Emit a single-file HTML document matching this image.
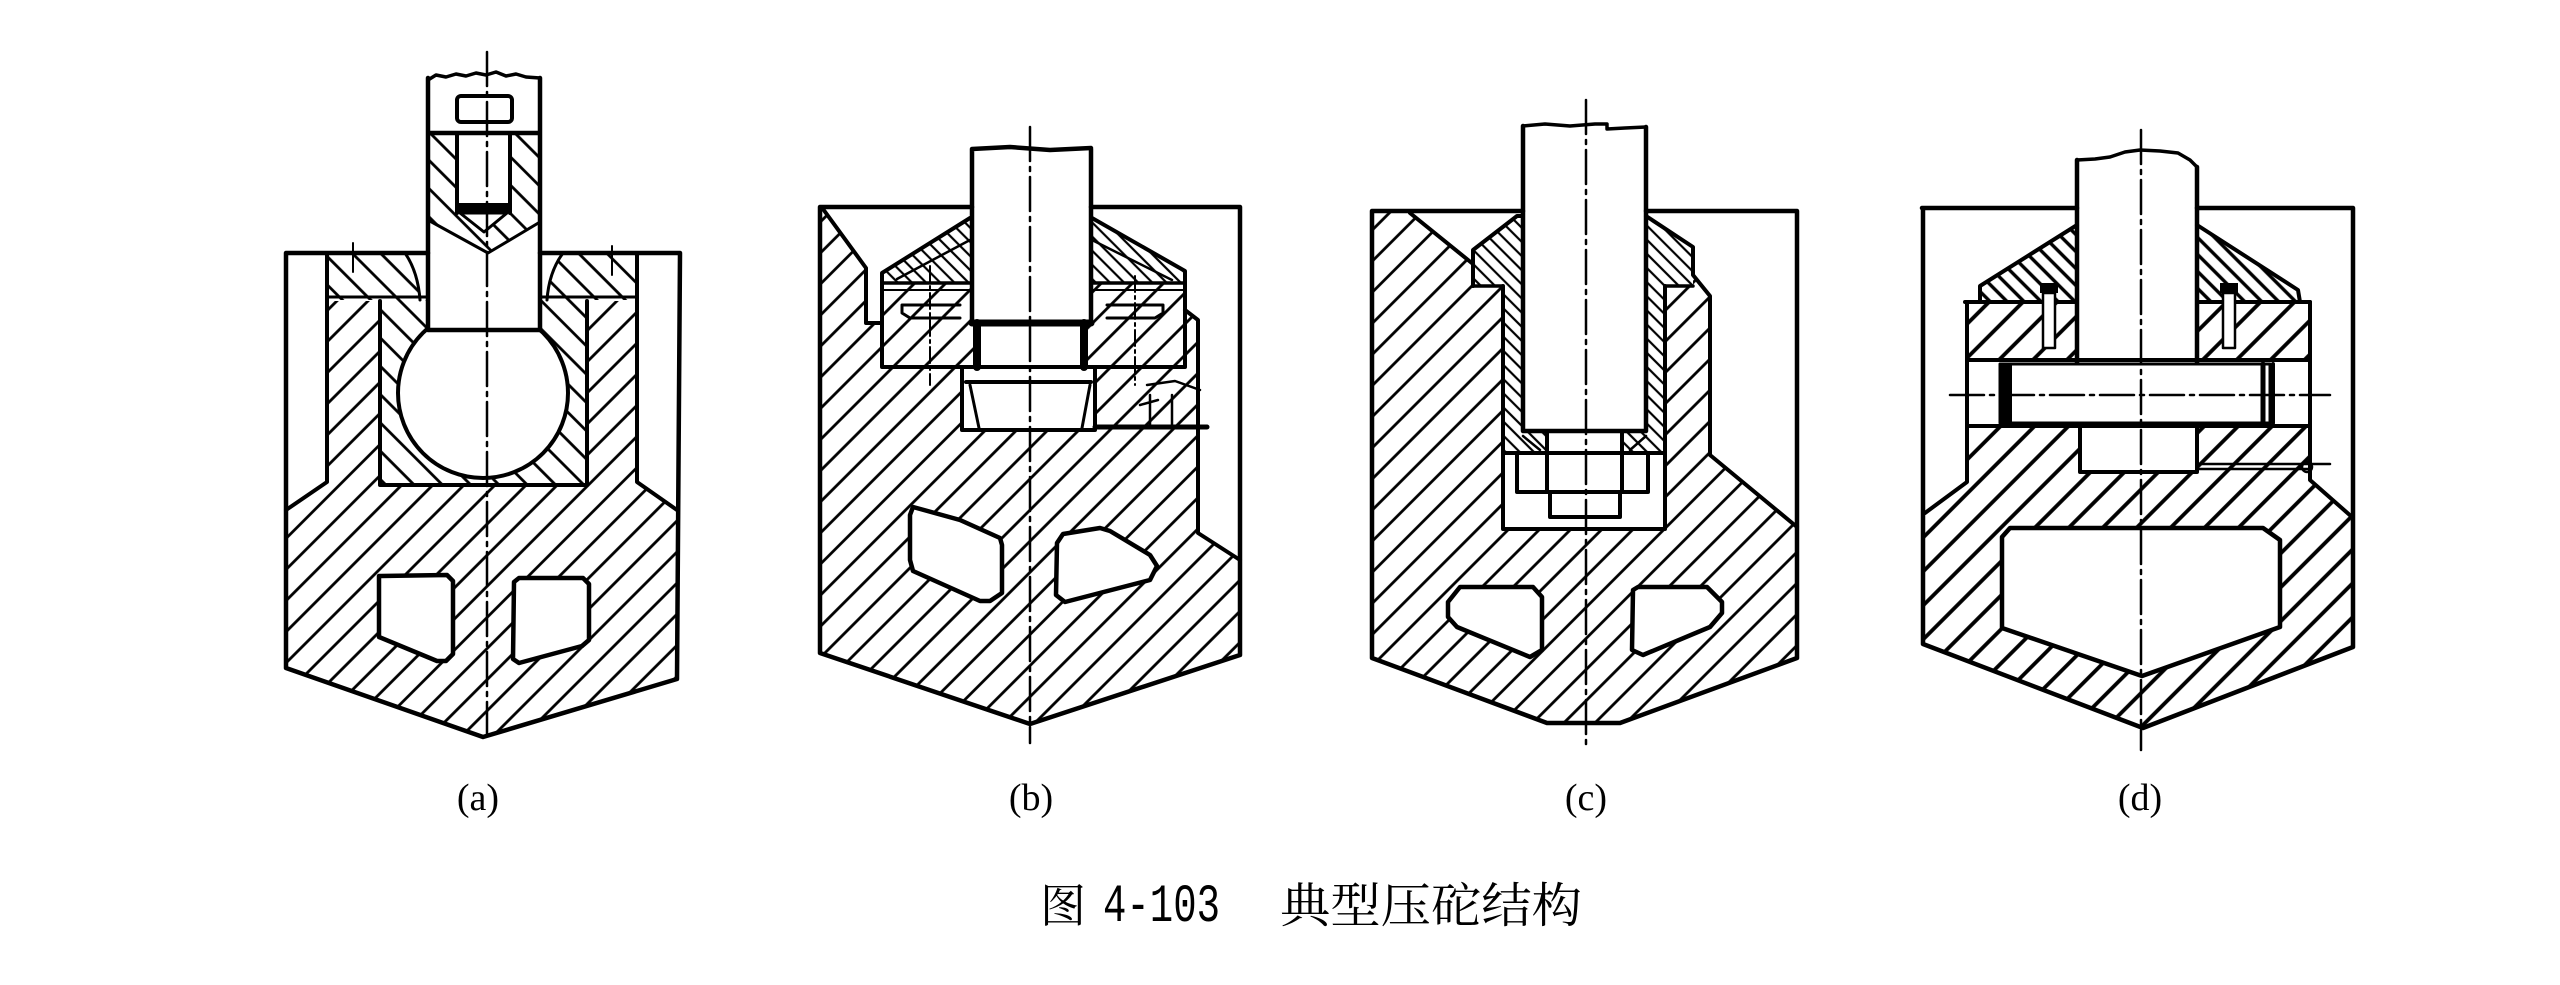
<!DOCTYPE html>
<html><head><meta charset="utf-8">
<style>html,body{margin:0;padding:0;background:#fff;}svg{display:block;}</style>
</head><body>
<svg width="2560" height="985" viewBox="0 0 2560 985" xmlns="http://www.w3.org/2000/svg">
<defs>
<pattern id="hr" patternUnits="userSpaceOnUse" width="22" height="22" patternTransform="rotate(45)"><rect width="22" height="22" fill="#fff"/><line x1="11" y1="-1" x2="11" y2="23" stroke="#000" stroke-width="2.8"/></pattern>
<pattern id="hl" patternUnits="userSpaceOnUse" width="20" height="20" patternTransform="rotate(-45)"><rect width="20" height="20" fill="#fff"/><line x1="10" y1="-1" x2="10" y2="21" stroke="#000" stroke-width="2.8"/></pattern>
<pattern id="hf" patternUnits="userSpaceOnUse" width="10" height="10" patternTransform="rotate(-45)"><rect width="10" height="10" fill="#fff"/><line x1="5" y1="-1" x2="5" y2="11" stroke="#000" stroke-width="2.2"/></pattern>
<pattern id="hd" patternUnits="userSpaceOnUse" width="24" height="24" patternTransform="rotate(45)"><rect width="24" height="24" fill="#fff"/><line x1="12" y1="-1" x2="12" y2="25" stroke="#000" stroke-width="3.8"/></pattern>
<pattern id="hfd" patternUnits="userSpaceOnUse" width="12" height="12" patternTransform="rotate(-45)"><rect width="12" height="12" fill="#fff"/><line x1="6" y1="-1" x2="6" y2="13" stroke="#000" stroke-width="3.4"/></pattern>
</defs>
<rect width="2560" height="985" fill="#fff"/>

<!-- ================= (a) ================= -->
<g stroke-linejoin="round" stroke-linecap="round">
<polygon points="286,510 327,482 327,253 637,253 637,482 677,510 677,679 483,737 286,668" fill="url(#hr)"/>
<rect x="327" y="253" width="310" height="48" fill="#fff"/>
<path d="M327,253 L405,253 Q418,272 420,300 L327,300 Z" fill="url(#hl)"/>
<path d="M637,253 L563,253 Q549,272 547,300 L637,300 Z" fill="url(#hl)"/>
<rect x="380" y="300" width="207" height="185" fill="url(#hl)"/>
<circle cx="483" cy="393" r="85" fill="#fff" stroke="#000" stroke-width="4"/>
<rect x="428" y="78" width="112" height="252" fill="#fff"/>
<polygon points="428,133 540,133 540,222 488,253 428,220" fill="url(#hl)"/>
<rect x="457" y="135" width="53" height="78" fill="#fff"/>
<polygon points="460,213 507,213 484,232" fill="#fff" stroke="#000" stroke-width="3"/>
<rect x="457" y="203" width="53" height="10" fill="#000"/>
<g fill="none" stroke="#000">
<path d="M286,253 L428,253 M540,253 L680,253 M286,253 L286,668 L483,737 L677,679 L680,253" stroke-width="4.5"/>
<path d="M327,253 L327,482 L286,510 M637,253 L637,482 L677,510" stroke-width="4"/>
<path d="M405,253 Q418,272 420,300 M563,253 Q549,272 547,300" stroke-width="3"/>
<path d="M327,297 L428,297 M540,297 L637,297" stroke-width="3"/>
<path d="M380,301 L380,485 L587,485 L587,301" stroke-width="4"/>
<path d="M428,78 L428,330 M540,78 L540,330 M428,330 L540,330 M428,133 L540,133" stroke-width="4.5"/>
<polyline points="428,80 436,75 446,77 456,74 466,76 476,73 486,75 496,72 506,76 516,74 526,77 540,78" stroke-width="3.5"/>
<path d="M428,220 L488,253 L540,222" stroke-width="3"/>
<path d="M457,135 L457,213 M510,135 L510,213" stroke-width="4"/>
<rect x="457" y="96" width="55" height="26" rx="4" stroke-width="4"/>
<path d="M353,243 L353,272 M612,246 L612,275" stroke-width="2"/>
</g>
<polygon points="379,576 447,575 453,581 453,654 446,661 437,661 379,637" fill="#fff" stroke="#000" stroke-width="4.5"/>
<polygon points="514,582 519,578 583,578 589,584 589,640 582,646 519,663 513,659" fill="#fff" stroke="#000" stroke-width="4.5"/>
<path d="M487,52 L487,740" stroke="#000" stroke-width="2.5" stroke-dasharray="34 6 4 6" fill="none"/>
</g>

<!-- ================= (b) ================= -->
<g stroke-linejoin="round" stroke-linecap="round">
<polygon points="820,207 823,207 866,268 866,323 882,323 882,283 1185,283 1185,310 1198,320 1198,533 1240,560 1240,655 1030,724 820,653" fill="url(#hr)"/>
<polygon points="970,218 882,273 882,283 972,283" fill="url(#hf)"/>
<polygon points="1092,218 1185,271 1185,283 1090,283" fill="url(#hf)"/>
<rect x="972" y="149" width="119" height="173" fill="#fff"/>
<rect x="973" y="322" width="114" height="45" fill="#fff"/>
<rect x="962" y="367" width="133" height="63" fill="#fff"/>
<g fill="none" stroke="#000">
<path d="M820,207 L972,207 M1091,207 L1240,207 M820,207 L820,653 L1030,724 L1240,655 L1240,207" stroke-width="4.5"/>
<path d="M823,209 L866,268 L866,323 L882,323" stroke-width="4"/>
<path d="M970,218 L882,273 L882,367 L962,367 M1095,367 L1185,367 L1185,271 L1092,218" stroke-width="4"/>
<path d="M882,283 L972,283 M1091,283 L1185,283" stroke-width="3.5"/>
<path d="M1185,310 L1198,320 L1198,533 L1240,560" stroke-width="4"/>
<path d="M970,240 L897,279 M1092,240 L1172,280" stroke-width="2.5"/>
<path d="M882,290 L972,290 M1091,290 L1185,290" stroke-width="2"/>
<path d="M902,305 L960,305 M902,305 L902,313 L910,318 L960,318 M1107,305 L1163,305 M1163,305 L1163,313 L1155,318 L1107,318" stroke-width="3"/>
<path d="M972,149 L972,322 M1091,149 L1091,322 M972,149 L1010,147 L1050,150 L1091,148" stroke-width="4.5"/>
<path d="M972,323 L1091,323" stroke-width="7"/>
<path d="M977,323 L977,367 M1084,323 L1084,367" stroke-width="8"/>
<path d="M962,367 L962,430 L1095,430 L1095,367 M962,367 L1095,367" stroke-width="4"/>
<path d="M966,382 L1091,382" stroke-width="4"/>
<path d="M970,385 L979,428 M1090,385 L1082,428" stroke-width="3"/>
<path d="M1095,427 L1207,427" stroke-width="5"/>
<path d="M1147,385 L1175,381 L1200,390 M1150,395 L1150,425 M1172,395 L1172,425 M1140,405 L1158,400" stroke-width="2.5"/>
<path d="M930,266 L930,385 M1135,276 L1135,385" stroke-width="2" stroke-dasharray="16 4 3 4"/>
</g>
<polygon points="913,507 960,520 1000,538 1002,545 1002,593 990,601 980,601 913,571 910,560 910,515" fill="#fff" stroke="#000" stroke-width="4.5"/>
<polygon points="1057,543 1063,534 1100,528 1110,531 1150,555 1157,566 1150,580 1065,602 1056,595" fill="#fff" stroke="#000" stroke-width="4.5"/>
<path d="M1030,127 L1030,743" stroke="#000" stroke-width="2.5" stroke-dasharray="34 6 4 6" fill="none"/>
</g>

<!-- ================= (c) ================= -->
<g stroke-linejoin="round" stroke-linecap="round">
<polygon points="1372,211 1410,213 1473,264 1473,250 1517,216 1646,216 1693,247 1693,275 1710,296 1710,455 1797,527 1797,658 1620,723 1547,723 1372,658" fill="url(#hr)"/>
<polygon points="1473,250 1517,216 1523,216 1523,286 1473,286" fill="url(#hf)"/>
<polygon points="1646,216 1693,247 1693,286 1646,286" fill="url(#hf)"/>
<rect x="1503" y="286" width="20" height="145" fill="url(#hf)"/>
<rect x="1646" y="286" width="19" height="145" fill="url(#hf)"/>
<rect x="1503" y="431" width="162" height="22" fill="url(#hf)"/>
<rect x="1523" y="125" width="123" height="306" fill="#fff"/>
<rect x="1503" y="453" width="162" height="76" fill="#fff"/>
<rect x="1547" y="433" width="75" height="20" fill="#fff"/>
<g fill="none" stroke="#000">
<path d="M1372,211 L1523,211 M1646,211 L1797,211 M1372,211 L1372,658 L1547,723 L1620,723 L1797,658 L1797,211" stroke-width="4.5"/>
<path d="M1410,213 L1473,264" stroke-width="4"/>
<path d="M1473,286 L1473,250 L1517,216 L1523,216 M1646,216 L1693,247 L1693,275 L1710,296 L1710,455 L1797,527" stroke-width="4"/>
<path d="M1473,286 L1503,286 M1665,286 L1693,286" stroke-width="3.5"/>
<path d="M1503,286 L1503,529 L1665,529 L1665,286" stroke-width="4"/>
<path d="M1523,126 L1523,431 M1646,127 L1646,431 M1523,431 L1646,431" stroke-width="4.5"/>
<polyline points="1523,126 1545,124 1570,126 1595,124 1607,124 1607,129 1625,128 1646,127" stroke-width="3.5"/>
<path d="M1503,453 L1665,453" stroke-width="4"/>
<path d="M1517,455 L1517,492 L1648,492 L1648,455" stroke-width="4"/>
<path d="M1547,433 L1547,492 M1622,433 L1622,492" stroke-width="4"/>
<path d="M1550,492 L1550,517 L1620,517 L1620,492" stroke-width="4"/>
<path d="M1523,436 L1540,450 M1646,436 L1630,450" stroke-width="2.5"/>
</g>
<polygon points="1460,587 1533,587 1542,597 1542,650 1530,657 1457,627 1448,617 1448,602" fill="#fff" stroke="#000" stroke-width="4.5"/>
<polygon points="1633,590 1638,587 1707,587 1722,602 1722,613 1710,627 1643,655 1632,650" fill="#fff" stroke="#000" stroke-width="4.5"/>
<path d="M1586,100 L1586,747" stroke="#000" stroke-width="2.5" stroke-dasharray="34 6 4 6" fill="none"/>
</g>

<!-- ================= (d) ================= -->
<g stroke-linejoin="round" stroke-linecap="round">
<polygon points="1967,302 2310,302 2310,480 2353,517 2353,647 2143,728 1923,644 1923,513 1967,482" fill="url(#hd)"/>
<polygon points="2077,225 1980,286 1980,302 2077,302" fill="url(#hfd)"/>
<polygon points="2197,225 2298,290 2300,302 2197,302" fill="url(#hfd)"/>
<rect x="2077" y="160" width="120" height="203" fill="#fff"/>
<rect x="1967" y="360" width="343" height="66" fill="#fff"/>
<rect x="2080" y="426" width="117" height="46" fill="#fff"/>
<g fill="none" stroke="#000">
<path d="M1922,208 L2077,208 M2197,208 L2353,208 M1923,208 L1923,644 L2143,728 L2353,647 L2353,208" stroke-width="4.5"/>
<path d="M1967,302 L1967,482 L1925,513 M2310,302 L2310,480 L2352,517" stroke-width="4"/>
<path d="M2077,225 L1980,286 L1980,302 M1965,302 L2077,302 M2197,302 L2310,302 M2197,225 L2298,290 L2300,302" stroke-width="4"/>
<path d="M2077,160 L2077,363 M2197,167 L2197,363" stroke-width="4.5"/>
<polyline points="2077,160 2095,159 2110,157 2125,152 2140,150 2160,151 2178,153 2190,160 2197,167" stroke-width="3.5"/>
<path d="M1967,360 L2310,360 M1967,426 L2310,426" stroke-width="4"/>
<rect x="2000" y="364" width="270" height="59" stroke-width="3"/>
<path d="M2263,364 L2263,423" stroke-width="5"/>
<path d="M2273,364 L2273,423" stroke-width="4"/>
<path d="M2080,426 L2080,472 L2197,472 L2197,426" stroke-width="4"/>
<path d="M2197,464 L2330,464 M2197,469 L2310,469" stroke-width="2.5"/>
<circle cx="2307" cy="467" r="5" stroke-width="2.5"/>
</g>
<rect x="2000" y="364" width="12" height="59" fill="#000"/>
<rect x="2040" y="283" width="18" height="10" fill="#000"/>
<rect x="2043" y="293" width="12" height="55" fill="#fff" stroke="#000" stroke-width="2.5"/>
<rect x="2220" y="283" width="18" height="10" fill="#000"/>
<rect x="2223" y="293" width="12" height="55" fill="#fff" stroke="#000" stroke-width="2.5"/>
<polygon points="2010,528 2263,528 2280,540 2280,627 2142,676 2002,628 2002,537" fill="#fff" stroke="#000" stroke-width="4.5"/>
<path d="M1950,395 L2330,395" stroke="#000" stroke-width="2.5" stroke-dasharray="34 6 4 6" fill="none"/>
<path d="M2141,130 L2141,750" stroke="#000" stroke-width="2.5" stroke-dasharray="34 6 4 6" fill="none"/>
</g>

<!-- ================= labels ================= -->
<g font-family="'Liberation Serif', serif" font-size="38" fill="#000" text-anchor="middle">
<text x="478" y="810">(a)</text>
<text x="1031" y="810">(b)</text>
<text x="1586" y="810">(c)</text>
<text x="2140" y="810">(d)</text>
</g>
<text x="1040" y="922" font-family="'Liberation Serif', 'Noto Serif CJK SC', serif" font-size="46" fill="#000">图</text>
<text x="1103" y="921" font-family="'Liberation Mono', monospace" font-size="54" textLength="117" lengthAdjust="spacingAndGlyphs" fill="#000">4-103</text>
<text x="1280" y="922" font-family="'Liberation Serif', 'Noto Serif CJK SC', serif" font-size="48" textLength="302" lengthAdjust="spacingAndGlyphs" fill="#000">典型压砣结构</text>
</svg>
</body></html>
